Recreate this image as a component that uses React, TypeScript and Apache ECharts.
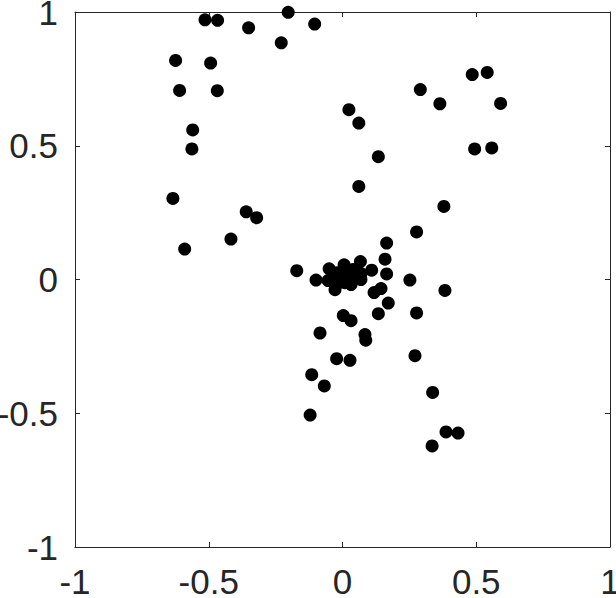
import React, { useEffect, useRef } from "react";
import * as echarts from "echarts";

const xTicks = [-1, -0.5, 0, 0.5, 1];

const xs = [
  -0.514, -0.467, -0.351, -0.203, -0.104, -0.229, -0.624, -0.493, -0.609, -0.468,
  -0.56, -0.563, -0.634, -0.36, -0.321, -0.417, -0.59,
  0.024, 0.061, 0.134, 0.061, 0.291, 0.364, 0.485, 0.541, 0.591, 0.494, 0.558,
  0.379, 0.277, 0.165,
  -0.171, -0.099, 0.159, 0.165, 0.252, 0.383, 0.067, 0.109, 0.118, 0.144, 0.171,
  0.134, 0.277, 0.003, 0.032, -0.084, 0.084, 0.087, 0.271, -0.022, 0.028,
  -0.115, -0.068, 0.337, -0.121, 0.387, 0.432, 0.335,
  -0.05, -0.021, 0.006, 0.017, -0.036, -0.006, 0.024, 0.05, 0.009, 0.032, 0.069,
  -0.028, -0.013, -0.054, 0.069, 0.039,
];

const ys = [
  0.971, 0.969, 0.941, 0.999, 0.955, 0.885, 0.819, 0.809, 0.707, 0.706,
  0.559, 0.488, 0.303, 0.253, 0.231, 0.151, 0.114,
  0.635, 0.585, 0.459, 0.348, 0.71, 0.657, 0.766, 0.774, 0.658, 0.488, 0.492,
  0.273, 0.178, 0.136,
  0.033, -0.002, 0.076, 0.021, -0.002, -0.041, 0.067, 0.035, -0.049, -0.034, -0.088,
  -0.128, -0.125, -0.135, -0.154, -0.2, -0.206, -0.227, -0.285, -0.296, -0.302,
  -0.356, -0.398, -0.422, -0.507, -0.57, -0.574, -0.622,
  0.04, 0.025, 0.055, 0.033, 0.003, 0.01, 0.01, 0.014, -0.012, -0.019, 0.0,
  -0.038, -0.012, -0.004, 0.022, 0.037,
];

const AXIS = "#262626";
const FONT = "Liberation Sans";

function axisBase(showLabels: boolean, position: string) {
  return {
    type: "value" as const,
    position,
    min: xTicks[0],
    max: xTicks[xTicks.length - 1],
    interval: 0.5,
    axisLine: { show: true, onZero: false, lineStyle: { color: AXIS, width: 1 } },
    axisTick: { show: true, inside: true, length: 5, lineStyle: { color: AXIS, width: 1 } },
    splitLine: { show: false },
    axisLabel: {
      show: showLabels,
      color: AXIS,
      fontFamily: FONT,
      fontSize: 35,
      margin: 17,
      formatter: (v: number) => String(v),
    },
  };
}

export default function App() {
  const ref = useRef<HTMLDivElement>(null);
  useEffect(() => {
    if (!ref.current) return;
    const chart = echarts.init(ref.current, null, { renderer: "svg" });
    const data = xs.map((x, i) => [x, ys[i]]);
    chart.setOption({
      animation: false,
      backgroundColor: "#ffffff",
      grid: {
        left: 75,
        top: 12,
        width: 535,
        height: 535,
        containLabel: false,
        outerBoundsMode: "none",
      },
      xAxis: [axisBase(true, "bottom"), { ...axisBase(false, "top") }],
      yAxis: [axisBase(true, "left"), { ...axisBase(false, "right") }],
      series: [
        {
          type: "scatter",
          xAxisIndex: 0,
          yAxisIndex: 0,
          data,
          symbol: "circle",
          symbolSize: 13,
          itemStyle: { color: "#000000", opacity: 1 },
          silent: true,
        },
      ],
    });
    return () => chart.dispose();
  }, []);
  return (
    <div
      ref={ref}
      style={{ position: "fixed", left: 0, top: 0, width: 616, height: 598, background: "#fff" }}
    />
  );
}
